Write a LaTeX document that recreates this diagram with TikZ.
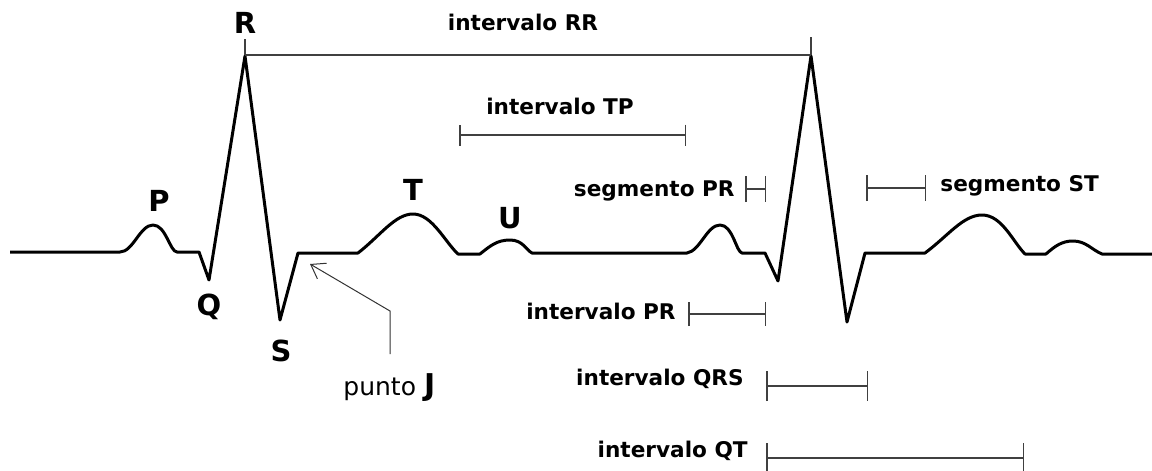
\documentclass[tikz,border=0pt]{standalone}
\usepackage{fontspec}
\setmainfont{DejaVu Sans}
\usetikzlibrary{arrows.meta}
\begin{document}
\begin{tikzpicture}[x=0.5pt,y=-0.5pt,
  wave/.style={line width=1.5pt,line join=round,black},
  peaklbl/.style={inner sep=0pt,font=\fontsize{14.5}{17}\selectfont\bfseries},
  intlbl/.style={inner sep=0pt,font=\fontsize{10.8}{13}\selectfont\bfseries},
  bar/.style={line width=0.75pt,draw=black!75},
  barends/.style={bar,{Bar[width=#1]}-{Bar[width=#1]}},
  rrline/.style={line width=0.6pt,draw=black!75},
  jarrow/.style={line width=0.5pt,draw=black!80,-{Straight Barb[length=6.5pt,width=9pt]}}]
\useasboundingbox (0,0) rectangle (1152,471);
% waveform
\draw[wave] (10,252) -- (120,252)
  .. controls (133,252) and (140,225) .. (153,225)
  .. controls (166,225) and (170,252) .. (177,252)
  -- (199,252) -- (209,280) -- (245,56) -- (280,320) -- (298,253) -- (358,253)
  .. controls (380,236) and (395,214) .. (413,214)
  .. controls (432,214) and (445,242) .. (458,254)
  -- (480,254)
  .. controls (490,246) and (497,240) .. (510,240)
  .. controls (523,240) and (526,250) .. (532,253)
  -- (687,253)
  .. controls (700,251) and (707,225) .. (720,225)
  .. controls (733,225) and (736,252) .. (742,253)
  -- (765,253) -- (778,281) -- (811,56) -- (847,322) -- (865,253) -- (925,253)
  .. controls (948,236) and (963,215) .. (982,215)
  .. controls (1002,215) and (1013,242) .. (1025,254)
  -- (1046,254)
  .. controls (1055,246) and (1062,241) .. (1073,241)
  .. controls (1086,241) and (1092,250) .. (1102,254)
  -- (1152,254);
% peak labels
\node[peaklbl] (lR) at (245,23) {R};
\node[peaklbl] (lP) at (159,201) {P};
\node[peaklbl] (lQ) at (209,307) {Q};
\node[peaklbl] (lS) at (281,351) {S};
\node[peaklbl] (lT) at (413,190) {T};
\node[peaklbl] (lU) at (510,218) {U};
% RR interval
\coordinate (rr1) at (245,55);
\coordinate (rr2) at (811,55);
\draw[rrline] (rr1) -- (rr2);
\draw[rrline] (rr1) -- ++(0,-16);
\draw[rrline] (rr2) -- ++(0,-18);
\node[intlbl] (tRR) at (523,22) {intervalo RR};
% TP interval
\coordinate (tp1) at (459,135);
\coordinate (tp2) at (686,135);
\draw[barends=10.5pt] (tp1) -- (tp2);
\node[intlbl] (tTP) at (560,106) {intervalo TP};
% segmento PR
\coordinate (sp1) at (745,189);
\coordinate (sp2) at (766,189);
\draw[barends=13pt] (sp1) -- (sp2);
\node[intlbl,anchor=east] (tsPR) at (735,191) {segmento PR};
% segmento ST
\coordinate (st1) at (866,188);
\coordinate (st2) at (926,188);
\draw[barends=13pt] (st1) -- (st2);
\node[intlbl,anchor=west] (tsST) at (940,186) {segmento ST};
% intervalo PR
\coordinate (ip1) at (688,314);
\coordinate (ip2) at (766,314);
\draw[barends=12pt] (ip1) -- (ip2);
\node[intlbl,anchor=east] (tiPR) at (676,311) {intervalo PR};
% intervalo QRS
\coordinate (qrs1) at (766,386);
\coordinate (qrs2) at (868,386);
\draw[barends=15pt] (qrs1) -- (qrs2);
\node[intlbl,anchor=east] (tQRS) at (744,379) {intervalo QRS};
% intervalo QT
\coordinate (qt1) at (766,458);
\coordinate (qt2) at (1024,458);
\draw[barends=15pt] (qt1) -- (qt2);
\node[intlbl,anchor=east] (tQT) at (748,451) {intervalo QT};
% punto J
\node[inner sep=0pt,anchor=base west] (tJ) at (343,395)
  {\fontsize{12.5}{15}\selectfont punto \fontsize{15}{18}\selectfont\bfseries J};
\coordinate (jfoot) at (390,354);
\coordinate (jbend) at (390,311);
\coordinate (jtip) at (310,264);
\draw[jarrow] (jfoot) -- (jbend) -- (jtip);
\end{tikzpicture}
\end{document}
